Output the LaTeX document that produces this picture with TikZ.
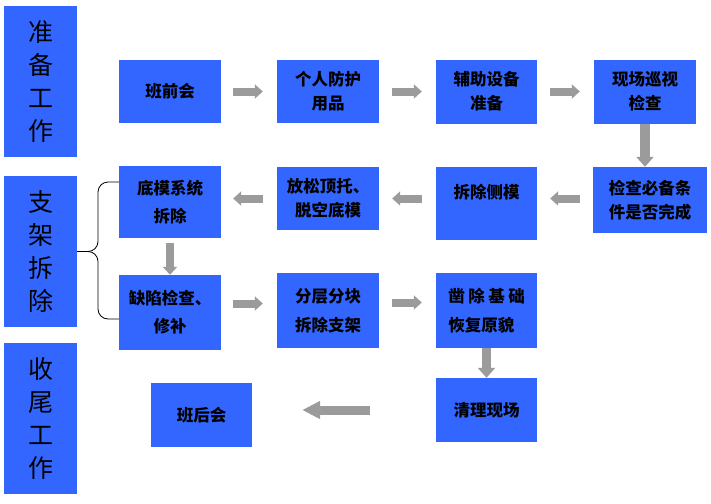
\documentclass[tikz,border=0pt]{standalone}
\usepackage{fontspec}
\newfontfamily\cjkfont{Noto Sans CJK SC}
\usetikzlibrary{arrows.meta,calc}
\definecolor{boxblue}{RGB}{51,102,255}
\definecolor{arrowgray}{RGB}{155,155,155}

\begin{document}
\begin{tikzpicture}[x=1pt,y=-1pt,
    box/.style={fill=boxblue,inner sep=0pt,align=center,
        font=\cjkfont\bfseries\fontsize{16.5}{24}\selectfont},
    stage/.style={fill=boxblue,inner sep=0pt,align=center,
        minimum width=73pt,minimum height=151pt,
        font=\cjkfont\fontsize{25}{33}\selectfont},
    flow/.style={draw=arrowgray,line width=8pt,-{Triangle[length=8pt,width=14pt]}},
    bigflow/.style={draw=arrowgray,line width=10pt,-{Triangle[length=10pt,width=17pt]}},
    bracket/.style={draw=black,line width=0.8pt,rounded corners=10pt}
]
\useasboundingbox (0,0) rectangle (711,503);

% Stages
\node[stage] (zhunbei) at (40.5,81.5) {准\\备\\工\\作};
\node[stage] (zhijia) at (40.5,251.5) {支\\架\\拆\\除};
\node[stage] (shouwei) at (40.5,418.5) {收\\尾\\工\\作};

% Steps
\node[box,minimum width=102pt,minimum height=63pt] (banqian) at (170,91.5) {班前会};
\node[box,minimum width=102pt,minimum height=63pt] (fanghu) at (328,91.5) {个人防护\\用品};
\node[box,minimum width=101pt,minimum height=64pt] (fuzhu) at (486.5,91.5) {辅助设备\\准备};
\node[box,minimum width=102pt,minimum height=64pt] (xunshi) at (645,91.5) {现场巡视\\检查};
\node[box,minimum width=114pt,minimum height=66pt] (jiancha) at (650,200) {检查必备条\\件是否完成};
\node[box,minimum width=101pt,minimum height=73pt] (cemo) at (486.5,203.5) {拆除侧模\\~};
\node[box,minimum width=102pt,minimum height=63pt] (fangsong) at (328,198.5) {放松顶托、\\脱空底模};
\node[box,minimum width=102pt,minimum height=72pt] (dimo) at (170,202) {底模系统\\[4pt]拆除};
\node[box,minimum width=102pt,minimum height=75pt] (quexian) at (170,312.5) {缺陷检查、\\[4pt]修补};
\node[box,minimum width=102pt,minimum height=75pt] (fenceng) at (328,310.5) {分层分块\\[5pt]拆除支架};
\node[box,minimum width=101pt,minimum height=75pt,align=left] (zaochu) at (486.5,310.5)
    {凿\hspace{3.5pt}除\hspace{3.5pt}基\hspace{3.5pt}础\\[5pt]恢复原貌};
\node[box,minimum width=101pt,minimum height=64pt] (qingli) at (486.5,410) {清理现场};
\node[box,minimum width=101pt,minimum height=64pt] (banhou) at (201.5,415) {班后会};

% Arrows
\draw[flow,shorten <=12pt,shorten >=14pt] (banqian) -- (fanghu);
\draw[flow,shorten <=13pt,shorten >=14pt] (fanghu) -- (fuzhu);
\draw[flow,shorten <=13pt,shorten >=14pt] (fuzhu) -- (xunshi);
\draw[bigflow] (xunshi.south) -- (xunshi.south |- jiancha.north);
\draw[flow,shorten <=13pt,shorten >=13pt] (jiancha.west |- fangsong) -- (cemo.east |- fangsong);
\draw[flow,shorten <=14pt,shorten >=13pt] (cemo.west |- fangsong) -- (fangsong.east);
\draw[flow,shorten <=14pt,shorten >=12pt] (fangsong.west) -- (dimo.east |- fangsong.west);
\draw[flow,shorten <=5pt] (dimo) -- (quexian);
\draw[flow,shorten <=12pt,shorten >=14pt] ([yshift=9pt]quexian.east) -- ([yshift=9pt]quexian.east -| fenceng.west);
\draw[flow,shorten <=13pt,shorten >=14pt] ([yshift=8pt]fenceng.east) -- ([yshift=8pt]fenceng.east -| zaochu.west);
\draw[bigflow,line width=9pt] (zaochu) -- (qingli);
\draw[bigflow,line width=9pt,-{Triangle[length=18pt,width=17pt]},shorten <=66pt,shorten >=50pt]
    (qingli.west) -- (banhou.east |- qingli.west);

% Bracket
\coordinate (bend) at ($(zhijia.east)!0.5!(dimo.west |- zhijia.east)$);
\draw[bracket] ([yshift=20pt]dimo.west) -| (bend) -- (zhijia.east);
\draw[bracket] ([yshift=-6.5pt]quexian.west) -| (bend) -- (zhijia.east);

\end{tikzpicture}
\end{document}
